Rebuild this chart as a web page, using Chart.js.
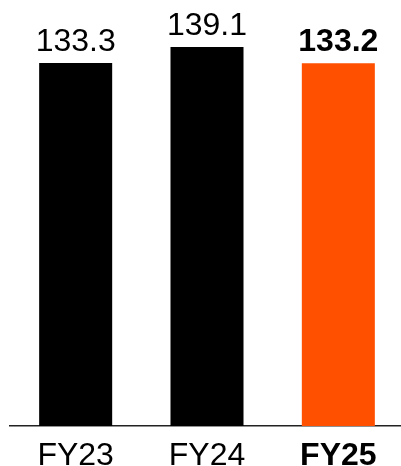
<!DOCTYPE html>
<html>
<head>
<meta charset="utf-8">
<script src="https://cdn.jsdelivr.net/npm/chart.js@4.4.1/dist/chart.umd.min.js"></script>
<style>
  html, body { margin: 0; padding: 0; background: #fff; overflow: hidden; }
  #wrap { width: 404px; height: 466px; }
</style>
</head>
<body>
<div id="wrap"><canvas id="myChart"></canvas></div>
<script>
var xValues = ["FY23", "FY24", "FY25"];
var yValues = [133.3, 139.1, 133.2];
var colors = ["#000000", "#000000", "#ff5000"];
var boldIndex = 2;

var fontFamily = "'Liberation Sans', Arial, sans-serif";

// value labels above each bar
var valueLabels = {
  id: "valueLabels",
  afterDatasetsDraw: function (chart) {
    var ctx = chart.ctx;
    var meta = chart.getDatasetMeta(0);
    ctx.save();
    ctx.fillStyle = "#000";
    ctx.textAlign = "center";
    ctx.textBaseline = "alphabetic";
    meta.data.forEach(function (bar, i) {
      ctx.font = (i === boldIndex ? "bold " : "") + "32px " + fontFamily;
      ctx.fillText(yValues[i].toFixed(1), bar.x, bar.y - 12);
    });
    ctx.restore();
  }
};

new Chart("myChart", {
  type: "bar",
  data: {
    labels: xValues,
    datasets: [{
      backgroundColor: colors,
      borderWidth: 0,
      data: yValues,
      barPercentage: 0.556,
      categoryPercentage: 1
    }]
  },
  options: {
    responsive: true,
    maintainAspectRatio: false,
    animation: false,
    layout: { padding: { left: 10, right: 0, top: 0, bottom: 0 } },
    plugins: { legend: { display: false }, tooltip: { enabled: false } },
    scales: {
      y: { display: false, min: 0, max: 156.4 },
      x: {
        grid: { display: false, drawTicks: false },
        border: { display: true, color: "#222", width: 1.5 },
        ticks: {
          color: "#000",
          padding: 11,
          font: function (c) {
            return { family: fontFamily, size: 32, weight: c.index === boldIndex ? "bold" : "normal" };
          }
        },
        afterFit: function (axis) { axis.height = 40; }
      }
    }
  },
  plugins: [valueLabels]
});
</script>
</body>
</html>
